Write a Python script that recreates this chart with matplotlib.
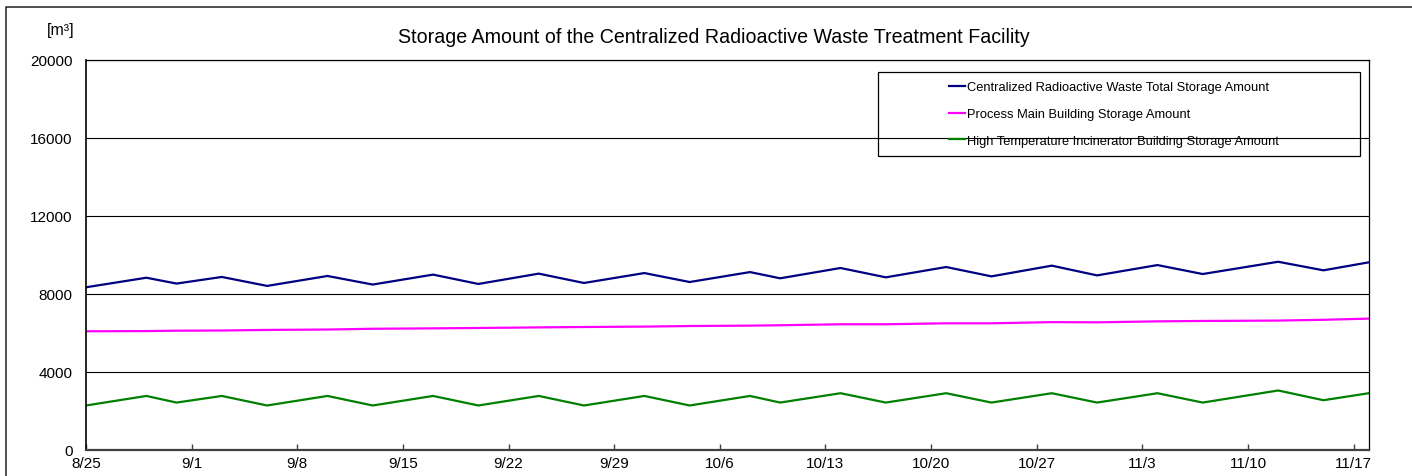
import matplotlib
matplotlib.use("Agg")
import matplotlib.pyplot as plt
from matplotlib.patches import Rectangle
import pandas as pd

plt.rcParams['font.family'] = ['Liberation Sans', 'DejaVu Sans']

# dates of the readings (month/day)
dates = ["8/25", "8/29", "8/31", "9/3", "9/6", "9/10", "9/13", "9/17", "9/20",
         "9/24", "9/27", "10/1", "10/4", "10/8", "10/10", "10/14", "10/17",
         "10/21", "10/24", "10/28", "10/31", "11/4", "11/7", "11/12", "11/15",
         "11/18"]

total_storage = [8330, 8820, 8520, 8860, 8400, 8910, 8470, 8980, 8500,
                 9030, 8550, 9060, 8600, 9110, 8790, 9320, 8840,
                 9370, 8890, 9440, 8940, 9470, 9010, 9640, 9200, 9610]

main_building = [6070, 6080, 6100, 6110, 6140, 6160, 6200, 6220, 6240,
                 6270, 6290, 6310, 6340, 6360, 6380, 6430, 6430,
                 6480, 6480, 6540, 6530, 6580, 6600, 6620, 6660, 6720]

incinerator = [2260, 2750, 2410, 2750, 2260, 2750, 2260, 2750, 2260,
               2750, 2260, 2750, 2260, 2750, 2410, 2890, 2410,
               2890, 2410, 2890, 2410, 2890, 2410, 3030, 2530, 2890]

tick_dates = ["8/25", "9/1", "9/8", "9/15", "9/22", "9/29", "10/6", "10/13",
              "10/20", "10/27", "11/3", "11/10", "11/17"]

series_names = ["Centralized Radioactive Waste Total Storage Amount",
                "Process Main Building Storage Amount",
                "High Temperature Incinerator Building Storage Amount"]
series_colors = ["#000080", "#ff00ff", "#008000"]

x = pd.to_datetime(dates, format="%m/%d")
xt = pd.to_datetime(tick_dates, format="%m/%d")

fig = plt.figure(figsize=(14.12, 4.77), dpi=100)
ax = fig.add_axes([86 / 1412, 1 - 450.5 / 477, (1368.7 - 86) / 1412, (450.5 - 61) / 477])

for vals, name, col in zip([total_storage, main_building, incinerator], series_names, series_colors):
    ax.plot(x, vals, color=col, lw=1.6, label=name, solid_joinstyle="miter")

ax.set_ylim(0, 20000)
ax.set_yticks(range(0, 20001, 4000))
ax.set_xlim(x[0], x[-1])
ax.set_xticks(xt)
ax.set_xticklabels(tick_dates)

ax.yaxis.grid(True, color="black", lw=0.8)
ax.set_axisbelow(True)
ax.tick_params(axis="y", length=0, pad=9.5, labelsize=11)
ax.tick_params(axis="x", direction="in", length=4, width=1, color="#404040",
               pad=5, labelsize=11)
ax.spines["bottom"].set_color("#404040")
ax.spines["bottom"].set_linewidth(1.6)
ax.spines["left"].set_linewidth(1.2)
ax.spines["top"].set_linewidth(0.9)
ax.spines["right"].set_linewidth(0.9)

# legend: box drawn separately, entries placed inside it
ax.add_patch(Rectangle(((878 - 86) / 1282.7, (450.5 - 157) / 389.5),
                       (1360 - 878) / 1282.7, (157 - 73) / 389.5,
                       transform=ax.transAxes, fill=False, ec="black", lw=0.9,
                       zorder=5))
ax.legend(loc="upper left", bbox_to_anchor=((944 - 86) / 1282.7, (450.5 - 77) / 389.5),
          frameon=False, fontsize=9.3, handlelength=1.25, handletextpad=0.1,
          labelspacing=1.15, borderaxespad=0)

ax.set_title("Storage Amount of the Centralized Radioactive Waste Treatment Facility",
             fontsize=14.15, pad=13, x=(714 - 86) / 1282.7)
fig.text(75 / 1412, 1 - 31 / 477, "[m³]", ha="right", va="center", fontsize=11.5)

# outer chart frame
fig.patches.append(Rectangle((6 / 1412, -0.1), 1.2, 1.1 - 8 / 477,
                             transform=fig.transFigure, fill=False,
                             ec="#202020", lw=1.1))

fig.savefig("out.png", dpi=100)
